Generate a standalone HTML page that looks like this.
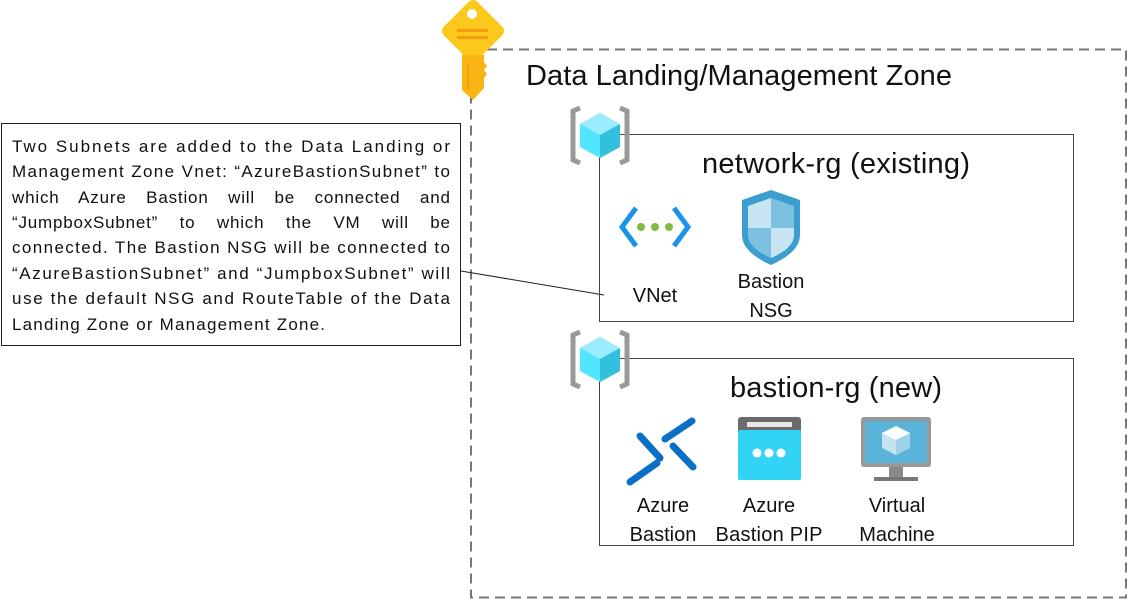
<!DOCTYPE html>
<html><head><meta charset="utf-8"><style>
html,body{margin:0;padding:0;background:#fff;}
svg{display:block;font-family:"Liberation Sans",sans-serif;}
</style></head><body>
<svg width="1128" height="600" viewBox="0 0 1128 600" xmlns="http://www.w3.org/2000/svg">
<defs>
<g id="rg1">
<path d="M580 108 L573 111 L573 160 L580 163" fill="none" stroke="#999" stroke-width="5"/>
<path d="M620 108 L627 111 L627 160 L620 163" fill="none" stroke="#999" stroke-width="5"/>
<path d="M600 113 L620 124 L620 147 L600 158 L580 147 L580 124 Z" fill="#50e6ff"/>
<path d="M600 113 L620 124 L600 135 L580 124 Z" fill="#9cebff"/>
<path d="M600 135 L620 124 L620 147 L600 158 Z" fill="#32bedd"/>
</g>
</defs>
<!-- dashed zone -->
<rect x="471" y="49.5" width="655" height="548" fill="none" stroke="#777" stroke-width="2" stroke-dasharray="10,6"/>
<!-- key -->
<g>
<path d="M473 6 L498 31 L473 56 L448 31 Z" fill="#fcc81c" stroke="#fcc81c" stroke-width="12" stroke-linejoin="round"/>
<circle cx="472" cy="14" r="5" fill="#fff"/>
<rect x="457" y="29" width="31" height="3" fill="#f29d12"/>
<rect x="457" y="36" width="31" height="3" fill="#f29d12"/>
<path d="M462 55 L484 55 L484 62 L487 66 L484 70 L487 74 L484 78 L484 88 L473 100 L462 90 Z" fill="#f8b514"/>
<rect x="467" y="64" width="2" height="26" fill="#f29d12"/>
</g>
<text x="526" y="85" font-size="29" fill="#111" textLength="426">Data Landing/Management Zone</text>

<!-- text box -->
<rect x="1.5" y="123.5" width="459" height="222" fill="#fff" stroke="#222" stroke-width="1"/>
<g font-size="17" fill="#111">
<text x="12" y="152" textLength="438" lengthAdjust="spacing">Two Subnets are added to the Data Landing or</text>
<text x="12" y="177" textLength="438" lengthAdjust="spacing">Management Zone Vnet: “AzureBastionSubnet” to</text>
<text x="12" y="203" textLength="438" lengthAdjust="spacing" word-spacing="14">which Azure Bastion will be connected and</text>
<text x="12" y="228" textLength="438" lengthAdjust="spacing" word-spacing="16">“JumpboxSubnet” to which the VM will be</text>
<text x="12" y="253" textLength="438" lengthAdjust="spacing">connected. The Bastion NSG will be connected to</text>
<text x="12" y="279" textLength="438" lengthAdjust="spacing">“AzureBastionSubnet” and “JumpboxSubnet” will</text>
<text x="12" y="304" textLength="438" lengthAdjust="spacing">use the default NSG and RouteTable of the Data</text>
<text x="12" y="330" textLength="313" lengthAdjust="spacing">Landing Zone or Management Zone.</text>
</g>
<line x1="461" y1="271" x2="604" y2="295" stroke="#222" stroke-width="1"/>

<!-- network-rg -->
<rect x="599.5" y="134.5" width="474" height="187" fill="none" stroke="#444" stroke-width="1"/>
<use href="#rg1"/>
<text x="836" y="173" font-size="29" text-anchor="middle" fill="#111" textLength="268">network-rg (existing)</text>
<!-- vnet icon -->
<path d="M636 208 L622 227 L636 246" fill="none" stroke="#1b93eb" stroke-width="5"/>
<path d="M674 208 L688 227 L674 246" fill="none" stroke="#1b93eb" stroke-width="5"/>
<circle cx="641" cy="227" r="4" fill="#7fba42"/><circle cx="655" cy="227" r="4" fill="#7fba42"/><circle cx="669" cy="227" r="4" fill="#7fba42"/>
<text x="655" y="302" font-size="20" text-anchor="middle" fill="#111">VNet</text>
<!-- shield -->
<path d="M771 190 L800 200 L800 235 Q800 252 771 265 Q742 252 742 235 L742 200 Z" fill="#3b9ecf"/>
<path d="M771 198 L794 206 L794 235 Q794 248 771 258 Q748 248 748 235 L748 206 Z" fill="#7dc0e0"/>
<path d="M771 198 L771 228 L748 228 L748 206 Z" fill="#c6e4f2"/>
<path d="M771 228 L794 228 L794 235 Q794 248 771 258 Z" fill="#c6e4f2"/>
<text x="771" y="288" font-size="20" text-anchor="middle" fill="#111">Bastion</text>
<text x="771" y="317" font-size="20" text-anchor="middle" fill="#111">NSG</text>

<!-- bastion-rg -->
<rect x="599.5" y="358.5" width="474" height="187" fill="none" stroke="#444" stroke-width="1"/>
<use href="#rg1" transform="translate(0,224)"/>
<text x="836" y="397" font-size="29" text-anchor="middle" fill="#111" textLength="212">bastion-rg (new)</text>
<!-- bastion icon -->
<g stroke="#0a6fc7" stroke-width="7" stroke-linecap="round">
<line x1="640" y1="436" x2="660" y2="458"/>
<line x1="665" y1="439" x2="692" y2="421"/>
<line x1="673" y1="446" x2="693" y2="467"/>
<line x1="630" y1="482" x2="657" y2="463"/>
</g>
<text x="663" y="512" font-size="20" text-anchor="middle" fill="#111">Azure</text>
<text x="663" y="541" font-size="20" text-anchor="middle" fill="#111">Bastion</text>
<!-- PIP -->
<rect x="738" y="417" width="63" height="32" rx="3" fill="#6b6b6b"/>
<rect x="738" y="430" width="63" height="50" rx="2" fill="#32d4f5"/>
<rect x="747" y="422" width="45" height="5" fill="#e8e8e8"/>
<circle cx="757" cy="453" r="4.5" fill="#fff"/><circle cx="769" cy="453" r="4.5" fill="#fff"/><circle cx="781" cy="453" r="4.5" fill="#fff"/>
<text x="769" y="512" font-size="20" text-anchor="middle" fill="#111">Azure</text>
<text x="769" y="541" font-size="20" text-anchor="middle" fill="#111" textLength="107">Bastion PIP</text>
<!-- VM -->
<rect x="861" y="417" width="70" height="50" rx="3" fill="#999"/>
<rect x="865" y="421" width="62" height="42" fill="#5ab4d9"/>
<rect x="889" y="467" width="14" height="10" fill="#888"/>
<rect x="874" y="477" width="44" height="4" fill="#777"/>
<path d="M896 426 L910 433 L910 448 L896 455 L882 448 L882 433 Z" fill="#c4e3f1"/>
<path d="M896 426 L910 433 L896 440 L882 433 Z" fill="#fff"/>
<path d="M896 440 L910 433 L910 448 L896 455 Z" fill="#9fd1e8"/>
<text x="897" y="512" font-size="20" text-anchor="middle" fill="#111">Virtual</text>
<text x="897" y="541" font-size="20" text-anchor="middle" fill="#111">Machine</text>
</svg>
</body></html>
